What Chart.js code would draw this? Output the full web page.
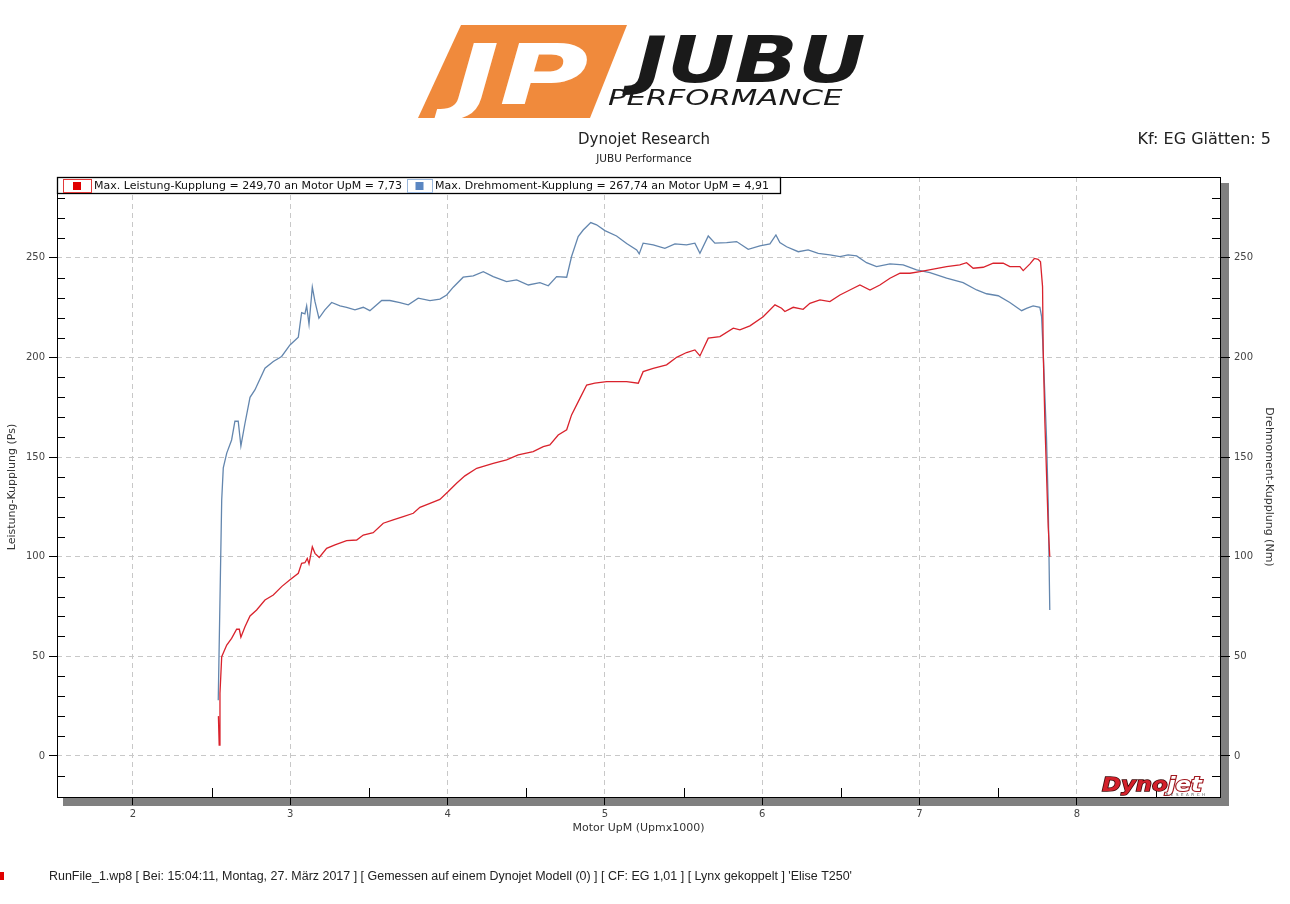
<!DOCTYPE html>
<html>
<head>
<meta charset="utf-8">
<title>Dynojet Research - JUBU Performance</title>
<script src="https://cdn.jsdelivr.net/npm/chart.js@4.4.1/dist/chart.umd.min.js"></script>
<style>
  html, body { margin: 0; padding: 0; background: #fff; }
  #wrap { width: 1290px; height: 904px; }
</style>
</head>
<body>
<div id="wrap"><canvas id="dynoChart" width="1290" height="904"></canvas></div>
<script>
// Leistung-Kupplung (Ps) over Motor UpM (x1000)
const powerRpm = [2.543, 2.548, 2.553, 2.564, 2.596, 2.627, 2.659, 2.676, 2.686, 2.712,
  2.744, 2.786, 2.839, 2.892, 2.945, 2.998, 3.051, 3.072, 3.093, 3.108,
  3.119, 3.140, 3.157, 3.184, 3.231, 3.284, 3.358, 3.422, 3.464, 3.527,
  3.591, 3.654, 3.718, 3.782, 3.824, 3.888, 3.951, 4.004, 4.057, 4.110,
  4.185, 4.290, 4.375, 4.449, 4.544, 4.608, 4.650, 4.703, 4.757, 4.788,
  4.841, 4.884, 4.936, 5.011, 5.074, 5.138, 5.212, 5.243, 5.307, 5.392,
  5.456, 5.519, 5.572, 5.604, 5.657, 5.731, 5.816, 5.858, 5.922, 6.006,
  6.081, 6.123, 6.144, 6.197, 6.260, 6.303, 6.367, 6.430, 6.494, 6.557,
  6.621, 6.685, 6.748, 6.812, 6.876, 6.939, 7.003, 7.087, 7.172, 7.256,
  7.299, 7.341, 7.405, 7.468, 7.532, 7.574, 7.638, 7.659, 7.702, 7.730,
  7.754, 7.769, 7.782, 7.786, 7.797, 7.818, 7.828];
const powerPs = [20, 5.5, 31.5, 49.8, 55.7, 59, 63.6, 63.6, 59.6, 64.9,
  70.3, 73.3, 78.3, 80.8, 85, 88.4, 91.7, 96.7, 97, 99.2,
  96.4, 105, 101.7, 99.6, 104.2, 105.9, 108.1, 108.4, 110.9, 112.1,
  116.8, 118.5, 120.1, 121.8, 124.8, 126.8, 128.8, 132.7, 136.9, 140.6,
  144.4, 146.9, 148.6, 151.1, 152.8, 155.3, 156.1, 161.1, 163.7, 171.2,
  179.5, 186.2, 187.1, 187.9, 187.9, 187.9, 187.1, 192.9, 194.6, 196.3,
  200.1, 202.5, 203.8, 200.8, 209.7, 210.5, 214.7, 213.9, 215.9, 220.5,
  226.4, 224.7, 223.1, 225.2, 224.2, 227.2, 228.9, 228.1, 231.4, 233.9,
  236.4, 233.9, 236.4, 239.8, 242.3, 242.3, 243.1, 244.4, 245.6, 246.5,
  247.6, 244.8, 245.3, 247.3, 247.3, 245.6, 245.6, 243.6, 247, 249.70,
  249.3, 248.1, 235.6, 203.8, 167, 115, 100];

// Drehmoment-Kupplung (Nm) over Motor UpM (x1000)
const torqueRpm = [2.542, 2.564, 2.574, 2.596, 2.627, 2.648, 2.669, 2.686, 2.712, 2.744,
  2.775, 2.839, 2.892, 2.945, 2.998, 3.051, 3.072, 3.093, 3.104, 3.119,
  3.140, 3.157, 3.182, 3.220, 3.263, 3.316, 3.358, 3.411, 3.464, 3.506,
  3.581, 3.633, 3.697, 3.750, 3.813, 3.888, 3.951, 3.994, 4.036, 4.099,
  4.163, 4.227, 4.290, 4.375, 4.439, 4.513, 4.587, 4.640, 4.693, 4.757,
  4.788, 4.830, 4.862, 4.910, 4.947, 5.000, 5.074, 5.138, 5.202, 5.218,
  5.243, 5.307, 5.381, 5.445, 5.519, 5.572, 5.604, 5.657, 5.699, 5.774,
  5.837, 5.911, 5.985, 6.049, 6.087, 6.112, 6.155, 6.229, 6.292, 6.356,
  6.430, 6.494, 6.546, 6.600, 6.663, 6.727, 6.812, 6.896, 6.981, 7.066,
  7.172, 7.277, 7.363, 7.426, 7.500, 7.574, 7.649, 7.680, 7.722, 7.765,
  7.776, 7.786, 7.807, 7.818, 7.828];
const torqueNm = [28, 128.5, 144.6, 152, 158.6, 168, 168, 155.6, 167, 180,
  183.7, 194.6, 198, 200.5, 206.3, 210.2, 222.5, 221.9, 225.9, 216.7,
  235.3, 228, 219.7, 223.9, 227.6, 225.9, 225.2, 223.9, 225.2, 223.5,
  228.6, 228.6, 227.6, 226.4, 229.8, 228.6, 229.3, 231.4, 235.3, 240.3,
  241, 243.1, 240.6, 238.1, 239, 236.4, 237.6, 236, 240.6, 240.3,
  250.7, 260.7, 264, 267.74, 266.6, 263.7, 261, 257.2, 254, 252,
  257.4, 256.5, 254.8, 257, 256.5, 257.4, 252.3, 261, 257.4, 257.7,
  258.2, 254.3, 256, 257, 261.5, 257.7, 255.6, 253.1, 254, 252.3,
  251.5, 250.6, 251.5, 251, 247.6, 245.6, 247, 246.5, 244, 242.6,
  239.8, 237.6, 233.9, 232, 231, 227.6, 223.5, 224.7, 225.9, 225.2,
  220.5, 203, 160, 127, 73.3];

const xTickValues = [2, 3, 4, 5, 6, 7, 8];
const xMinorTicks = [2.5, 3.5, 4.5, 5.5, 6.5, 7.5, 8.5];
const yTickValues = [0, 50, 100, 150, 200, 250];
const yMinorTicks = [-10, 10, 20, 30, 40, 60, 70, 80, 90, 110, 120, 130, 140,
  160, 170, 180, 190, 210, 220, 230, 240, 260, 270, 280];

const powerName = 'Leistung-Kupplung';
const torqueName = 'Drehmoment-Kupplung';
const footerText = "RunFile_1.wp8 [ Bei: 15:04:11, Montag, 27. März 2017 ] [ Gemessen auf einem Dynojet Modell (0) ] [ CF: EG 1,01 ] [ Lynx gekoppelt ] 'Elise T250'";

const RED = '#d9222c';
const BLUE = '#6386ae';

function toPoints(xs, ys) {
  return xs.map((x, i) => ({ x: x, y: ys[i] }));
}

// "Max. ... = 249,70 an Motor UpM = 7,73"
function maxLabel(name, xs, ys) {
  let k = 0;
  ys.forEach((v, i) => { if (v > ys[k]) k = i; });
  const de = n => n.toFixed(2).replace('.', ',');
  return 'Max. ' + name + ' = ' + de(ys[k]) + ' an Motor UpM = ' + de(xs[k]);
}

function drawLogo(ctx) {
  // orange slanted block with JP
  ctx.save();
  ctx.fillStyle = '#f08a3c';
  ctx.beginPath();
  ctx.moveTo(461, 25);
  ctx.lineTo(627, 25);
  ctx.lineTo(590, 118);
  ctx.lineTo(418, 118);
  ctx.closePath();
  ctx.fill();

  ctx.fillStyle = '#fff';
  ctx.font = 'italic bold 84px "DejaVu Sans"';
  ctx.textBaseline = 'alphabetic';
  ctx.translate(454, 104);
  ctx.scale(1.45, 1);
  ctx.fillText('JP', 0, 0);
  ctx.restore();

  ctx.save();
  ctx.fillStyle = '#1a1a1a';
  ctx.font = 'italic bold 64px "DejaVu Sans"';
  ctx.translate(636, 82);
  ctx.scale(1.3, 1);
  ctx.fillText('JUBU', 0, 0);
  ctx.restore();

  ctx.save();
  ctx.fillStyle = '#1a1a1a';
  ctx.font = 'italic 22px "DejaVu Sans ExtraLight", "DejaVu Sans"';
  ctx.translate(608, 105);
  ctx.scale(1.4, 1);
  ctx.fillText('PERFORMANCE', 0, 0);
  ctx.restore();
}

function drawDynojetMark(ctx) {
  ctx.save();
  ctx.font = 'italic bold 19px "DejaVu Sans"';
  ctx.textBaseline = 'alphabetic';
  ctx.translate(1102, 791);
  ctx.scale(1.2, 1);
  ctx.lineWidth = 1.4;
  ctx.fillStyle = '#d3202a';
  ctx.strokeStyle = '#3a0808';
  ctx.strokeText('Dyno', 0, 0);
  ctx.fillText('Dyno', 0, 0);
  const w = ctx.measureText('Dyno').width;
  ctx.fillStyle = '#fff';
  ctx.strokeStyle = '#a0181f';
  ctx.lineWidth = 2;
  ctx.strokeText('jet', w, 0);
  ctx.fillText('jet', w, 0);
  ctx.restore();

  ctx.save();
  ctx.font = '4px "DejaVu Sans"';
  ctx.fillStyle = '#555';
  ctx.textAlign = 'right';
  ctx.fillText('R  E  S  E  A  R  C  H', 1205, 796);
  ctx.restore();
}

const dynoDecor = {
  id: 'dynoDecor',
  beforeDraw(chart) {
    const { ctx, chartArea: a } = chart;
    ctx.save();
    ctx.fillStyle = '#fff';
    ctx.fillRect(0, 0, chart.width, chart.height);
    // drop shadow of the plot frame
    ctx.fillStyle = '#808080';
    ctx.fillRect(a.right + 1, a.top + 6, 8, a.bottom - a.top + 2);
    ctx.fillRect(a.left + 6, a.bottom + 1, a.right - a.left + 3, 8);
    ctx.restore();
  },
  afterDraw(chart) {
    const { ctx, chartArea: a, scales } = chart;
    const y = scales.y, y1 = scales.y1, x = scales.x;

    ctx.save();
    // minor ticks, drawn inward
    ctx.strokeStyle = '#000';
    ctx.lineWidth = 1;
    ctx.beginPath();
    yMinorTicks.forEach(v => {
      const py = Math.round(y.getPixelForValue(v)) + 0.5;
      ctx.moveTo(a.left, py); ctx.lineTo(a.left + 8, py);
      const py1 = Math.round(y1.getPixelForValue(v)) + 0.5;
      ctx.moveTo(a.right - 8, py1); ctx.lineTo(a.right, py1);
    });
    xMinorTicks.forEach(v => {
      const px = Math.round(x.getPixelForValue(v)) + 0.5;
      ctx.moveTo(px, a.bottom); ctx.lineTo(px, a.bottom - 9);
    });
    ctx.stroke();

    // frame
    ctx.strokeRect(a.left + 0.5, a.top + 0.5, a.right - a.left, a.bottom - a.top);

    // legend strip along the top of the frame
    ctx.fillStyle = '#fff';
    ctx.fillRect(a.left + 1, a.top + 1, 723, 16);
    ctx.lineWidth = 1.3;
    ctx.strokeRect(a.left + 0.5, a.top + 0.5, 723, 16);
    ctx.lineWidth = 1;
    const items = [
      { color: '#e00000', edge: '#e23a3a', box: [63, 179, 28, 13],
        text: maxLabel(powerName, powerRpm, powerPs), tx: 94, tw: 309 },
      { color: '#5a86c2', edge: '#9ab7dc', box: [407, 179, 25, 13],
        text: maxLabel(torqueName, torqueRpm, torqueNm), tx: 435, tw: 342 }
    ];
    ctx.font = '11px "DejaVu Sans"';
    ctx.textBaseline = 'middle';
    items.forEach(it => {
      const [bx, by, bw, bh] = it.box;
      ctx.strokeStyle = it.edge;
      ctx.strokeRect(bx + 0.5, by + 0.5, bw, bh);
      ctx.fillStyle = it.color;
      ctx.fillRect(bx + bw / 2 - 4, by + bh / 2 - 3.5, 8, 8);
      ctx.fillStyle = '#111';
      ctx.fillText(it.text, it.tx, 186, it.tw);
    });

    // titles
    ctx.fillStyle = '#222';
    ctx.textAlign = 'center';
    ctx.font = '15px "DejaVu Sans"';
    ctx.fillText('Dynojet Research', 644, 140, 137);
    ctx.font = '10.5px "DejaVu Sans"';
    ctx.fillText('JUBU Performance', 644, 159, 105);
    ctx.textAlign = 'right';
    ctx.font = '16px "DejaVu Sans"';
    ctx.fillText('Kf: EG Glätten: 5', 1271, 140, 136);

    // footer
    ctx.textAlign = 'left';
    ctx.font = '12.5px "Liberation Sans"';
    ctx.fillStyle = '#222';
    ctx.fillText(footerText, 49, 877, 803);
    ctx.fillStyle = '#e00000';
    ctx.fillRect(0, 872, 4, 8);
    ctx.restore();

    drawLogo(ctx);
    drawDynojetMark(ctx);
  }
};

const tickFont = { family: 'DejaVu Sans', size: 10 };

new Chart(document.getElementById('dynoChart'), {
  type: 'line',
  data: {
    datasets: [
      {
        label: powerName,
        data: toPoints(powerRpm, powerPs),
        yAxisID: 'y',
        borderColor: RED,
        borderWidth: 1.3,
        pointRadius: 0,
        tension: 0,
        fill: false
      },
      {
        label: torqueName,
        data: toPoints(torqueRpm, torqueNm),
        yAxisID: 'y1',
        borderColor: BLUE,
        borderWidth: 1.3,
        pointRadius: 0,
        tension: 0,
        fill: false
      }
    ]
  },
  options: {
    responsive: false,
    devicePixelRatio: 1,
    animation: false,
    layout: { padding: { top: 177, left: 0, right: 0, bottom: 0 } },
    plugins: {
      legend: { display: false },
      tooltip: { enabled: false },
      title: { display: false }
    },
    scales: {
      x: {
        type: 'linear',
        min: 1.517,
        max: 8.91,
        afterBuildTicks: s => { s.ticks = xTickValues.map(v => ({ value: v })); },
        afterFit: s => { s.height = 107; },
        ticks: { font: tickFont, color: '#444', padding: 3, maxRotation: 0 },
        grid: { color: '#c8c8c8', tickColor: '#000', tickLength: 8 },
        border: { display: false, dash: [5, 4] },
        title: {
          display: true,
          text: 'Motor UpM (Upmx1000)',
          color: '#333',
          font: { family: 'DejaVu Sans', size: 11 },
          padding: { top: 0, bottom: 69 }
        }
      },
      y: {
        position: 'left',
        min: -20.6,
        max: 290.6,
        afterBuildTicks: s => { s.ticks = yTickValues.map(v => ({ value: v })); },
        afterFit: s => { s.width = 57; },
        ticks: { font: tickFont, color: '#444', padding: 4 },
        grid: { color: '#c8c8c8', tickColor: '#000', tickLength: 8 },
        border: { display: false, dash: [5, 4] },
        title: {
          display: true,
          text: 'Leistung-Kupplung (Ps)',
          color: '#333',
          font: { family: 'DejaVu Sans', size: 11 },
          padding: { top: 6, bottom: 0 }
        }
      },
      y1: {
        position: 'right',
        min: -20.6,
        max: 290.6,
        afterBuildTicks: s => { s.ticks = yTickValues.map(v => ({ value: v })); },
        afterFit: s => { s.width = 70; },
        ticks: { font: tickFont, color: '#444', padding: 4 },
        grid: { drawOnChartArea: false, tickColor: '#000', tickLength: 10 },
        border: { display: false },
        title: {
          display: true,
          text: 'Drehmoment-Kupplung (Nm)',
          color: '#333',
          font: { family: 'DejaVu Sans', size: 11 },
          padding: { top: 15, bottom: 0 }
        }
      }
    }
  },
  plugins: [dynoDecor]
});
</script>
</body>
</html>
